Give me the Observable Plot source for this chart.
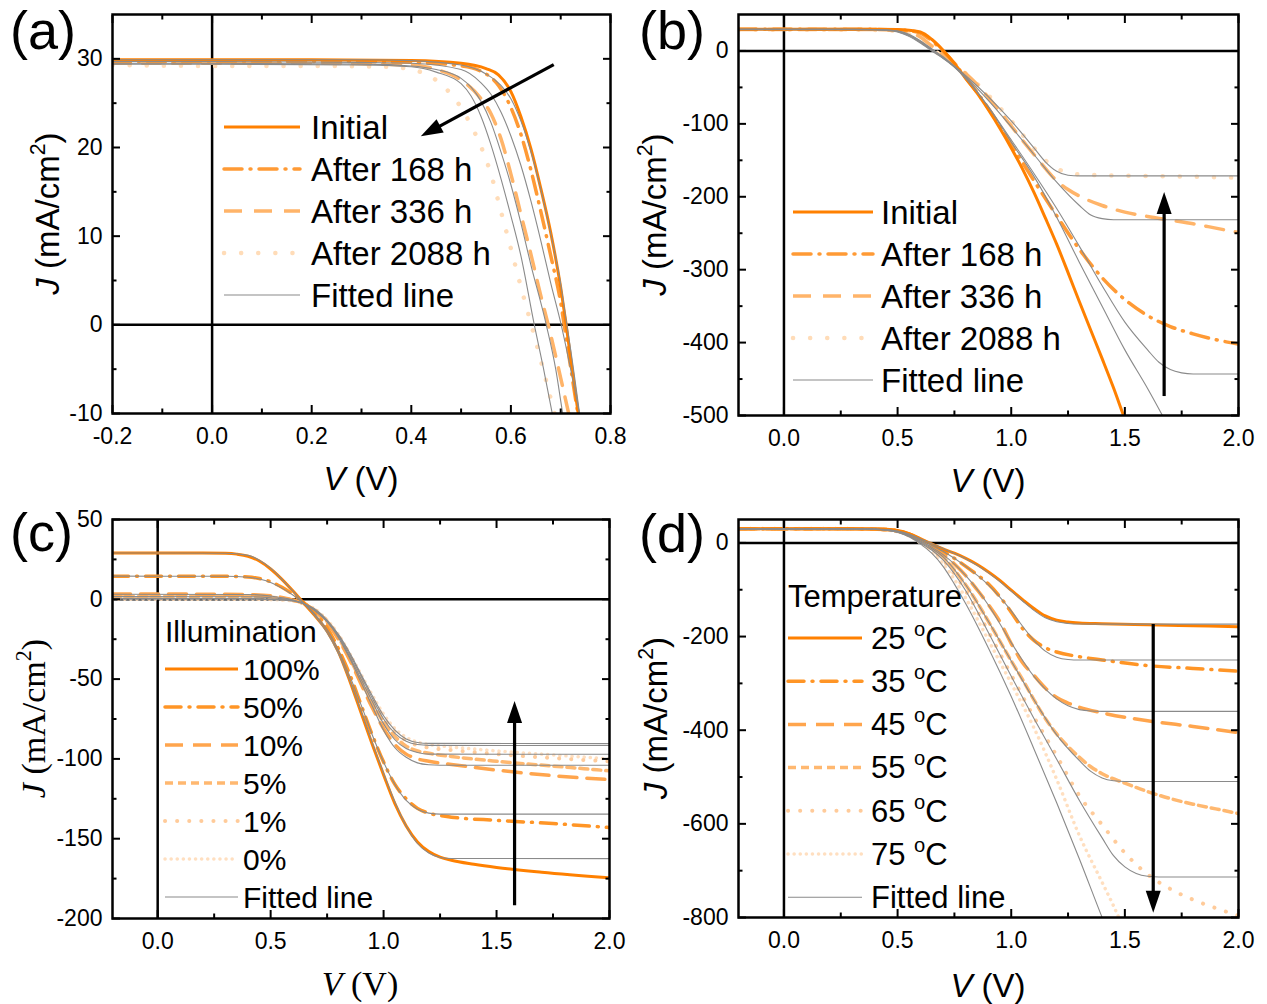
<!DOCTYPE html>
<html><head><meta charset="utf-8">
<script src="https://cdn.jsdelivr.net/npm/d3@7"></script>
<script src="https://cdn.jsdelivr.net/npm/@observablehq/plot@0.6"></script>
<style>
body{margin:0;background:#fff;}
#root{position:relative;width:1267px;height:1004px;background:#fff;overflow:hidden;}
.panel{position:absolute;}
</style></head><body><div id="root"></div>
<script>
// ---------------- DATA ----------------
// Panel (a): J-V near Voc, aging
const a_initial = [[-0.2,29.9],[0,29.9],[0.2,29.9],[0.4,29.8],[0.5,29.5],[0.55,28.9],[0.575,28.2],[0.6,26.3],[0.62,23.5],[0.64,19.9],[0.66,15.4],[0.68,10.4],[0.7,4.2],[0.71,0.4],[0.72,-3.8],[0.74,-12]];
const a_168 = [[-0.2,29.7],[0,29.7],[0.2,29.7],[0.4,29.6],[0.5,29.2],[0.55,28.3],[0.575,27],[0.6,24.5],[0.62,21.5],[0.64,17.5],[0.66,12.8],[0.68,7.8],[0.7,2.5],[0.707,0],[0.72,-4.8],[0.74,-12]];
const a_336 = [[-0.2,29.5],[0,29.5],[0.2,29.5],[0.4,29.3],[0.45,28.8],[0.5,27.6],[0.54,25.5],[0.56,23.8],[0.58,21],[0.6,17],[0.62,12.5],[0.64,8],[0.66,3.3],[0.675,0],[0.7,-6],[0.72,-11]];
const a_2088 = [[-0.2,29.3],[0,29.2],[0.2,29.2],[0.35,29.1],[0.4,28.8],[0.45,27.6],[0.48,26],[0.5,24.5],[0.52,22.5],[0.54,20.1],[0.56,17],[0.58,12.8],[0.6,8.6],[0.62,4.3],[0.641,0],[0.66,-4],[0.69,-10.5]];
const a_fit1 = [[-0.2,29.4],[0,29.4],[0.3,29.3],[0.4,29.1],[0.45,28.5],[0.5,27.2],[0.52,25.8],[0.54,23.5],[0.56,20.3],[0.58,16.5],[0.6,12.3],[0.62,7.8],[0.647,0],[0.665,-4.8],[0.69,-12]];
const a_fit2 = [[-0.2,29.5],[0,29.5],[0.3,29.4],[0.4,29.2],[0.45,28.8],[0.5,27.8],[0.52,26.8],[0.54,25.2],[0.56,22.8],[0.58,19.5],[0.6,15.8],[0.62,11.5],[0.64,6.8],[0.671,0],[0.69,-5],[0.704,-10],[0.71,-12]];
const a_fit3 = [[-0.2,29.7],[0,29.7],[0.3,29.6],[0.4,29.5],[0.5,28.8],[0.54,27.3],[0.56,26],[0.58,24],[0.6,21.3],[0.62,18],[0.64,14],[0.66,9.5],[0.68,4.7],[0.701,0],[0.72,-5],[0.745,-12]];
const a_fit4 = [[-0.2,29.9],[0,29.9],[0.3,29.9],[0.4,29.8],[0.5,29.3],[0.55,28.3],[0.58,27],[0.6,25.5],[0.62,23],[0.64,19.6],[0.66,15.3],[0.68,10.3],[0.7,4.6],[0.711,0.5],[0.72,-2.8],[0.745,-13]];
const a_arrow = [[0.687,29.3],[0.42,21.2]];
const a_labels = ["Initial","After 168 h","After 336 h","After 2088 h","Fitted line"];

// Panel (b): full range, aging
const b_initial = [[-0.2,29.7],[0.2,29.7],[0.4,29.7],[0.5,29.3],[0.55,28.3],[0.6,26],[0.65,16],[0.7,1],[0.75,-17],[0.8,-38],[0.85,-58],[0.9,-81],[0.95,-106],[1.0,-133],[1.05,-162],[1.1,-194],[1.15,-229],[1.2,-265],[1.25,-304],[1.3,-344],[1.35,-383],[1.4,-422],[1.45,-462],[1.5,-505],[1.55,-545]];
const b_168 = [[-0.2,29.7],[0.3,29.7],[0.4,29.6],[0.5,29],[0.55,27.8],[0.6,24.5],[0.65,14],[0.7,0],[0.75,-17],[0.8,-37],[0.85,-57],[0.9,-79],[0.95,-103],[1.0,-128],[1.1,-178],[1.2,-226],[1.3,-272],[1.4,-311],[1.5,-341],[1.6,-363],[1.7,-378],[1.8,-388],[1.9,-396],[2.0,-402]];
const b_336 = [[-0.2,29.5],[0.3,29.5],[0.4,29.3],[0.5,28.3],[0.55,26],[0.6,19],[0.65,7],[0.7,-5],[0.75,-17],[0.8,-31],[0.85,-46],[0.9,-64],[0.95,-83],[1.0,-103],[1.1,-142],[1.15,-161],[1.2,-178],[1.25,-190],[1.3,-199],[1.4,-212],[1.5,-221],[1.6,-227],[1.7,-232],[1.8,-237],[1.9,-243],[2.0,-249]];
const b_2088 = [[-0.2,29.2],[0.3,29.1],[0.4,28.8],[0.5,27],[0.55,23],[0.6,14],[0.65,3],[0.7,-8],[0.75,-19],[0.8,-31],[0.85,-45],[0.9,-61],[0.95,-78],[1.0,-96],[1.05,-115],[1.1,-133],[1.15,-150],[1.2,-161],[1.25,-167],[1.3,-169.5],[1.4,-170.5],[1.6,-171.5],[1.8,-172.5],[2.0,-174]];
const b_fit1 = [[-0.2,29.8],[0.3,29.7],[0.4,29.5],[0.45,29],[0.5,27.5],[0.55,23],[0.6,14],[0.65,3],[0.7,-8],[0.75,-21],[0.8,-37],[0.9,-77],[1.0,-125],[1.1,-172],[1.2,-228],[1.3,-290],[1.4,-350],[1.5,-410],[1.6,-463],[1.7,-520]];
const b_fit2 = [[-0.2,29.8],[0.3,29.7],[0.4,29.4],[0.45,28.8],[0.5,27],[0.55,22],[0.6,13],[0.65,2],[0.7,-9],[0.75,-22],[0.8,-38],[0.9,-77],[1.0,-122],[1.1,-168],[1.2,-216],[1.3,-268],[1.4,-322],[1.5,-372],[1.6,-410],[1.65,-427],[1.7,-437],[1.75,-441.5],[1.8,-443],[2.0,-443]];
const b_fit3 = [[-0.2,29.6],[0.3,29.5],[0.4,29.2],[0.45,28.5],[0.5,26.5],[0.55,21],[0.6,12],[0.65,1],[0.7,-10],[0.75,-22],[0.8,-36],[0.9,-68],[1.0,-104],[1.1,-142],[1.2,-180],[1.3,-212],[1.35,-225],[1.4,-230],[1.45,-231.5],[2.0,-231.5]];
const b_fit4 = [[-0.2,29.3],[0.3,29.2],[0.4,28.9],[0.45,28],[0.5,26],[0.55,20],[0.6,11],[0.65,0],[0.7,-10],[0.75,-21],[0.8,-34],[0.9,-63],[1.0,-96],[1.1,-133],[1.15,-152],[1.2,-165],[1.25,-170.5],[1.3,-171.4],[2.0,-171.4]];
const b_arrow = [[1.675,-474],[1.675,-194]];
const b_labels = ["Initial","After 168 h","After 336 h","After 2088 h","Fitted line"];

// Panel (c): illumination
const c_100 = [[-0.2,29],[0.2,29],[0.3,28.8],[0.35,28.3],[0.4,27],[0.45,24],[0.5,19],[0.55,12.5],[0.6,5],[0.65,-3],[0.7,-11],[0.75,-20],[0.8,-33],[0.85,-51],[0.9,-71],[0.95,-91],[1.0,-110],[1.05,-128],[1.1,-142],[1.15,-152],[1.2,-158],[1.25,-161.5],[1.3,-163.5],[1.4,-166],[1.5,-168],[1.7,-171],[2.0,-174.5]];
const c_50 = [[-0.2,14.5],[0.3,14.4],[0.4,14],[0.45,13],[0.5,11],[0.55,7.5],[0.6,3],[0.65,-2.5],[0.7,-9],[0.75,-18],[0.8,-31],[0.85,-47],[0.9,-66],[0.95,-85],[1.0,-102],[1.05,-116],[1.1,-125],[1.15,-131],[1.2,-134],[1.25,-135.5],[1.3,-136.5],[1.5,-138.5],[1.75,-140.5],[2.0,-143]];
const c_10 = [[-0.2,3.3],[0.3,3.2],[0.4,3],[0.5,2.2],[0.55,1.2],[0.6,-0.5],[0.65,-3],[0.7,-8],[0.75,-15],[0.8,-25],[0.85,-38],[0.9,-53],[0.95,-68],[1.0,-81],[1.05,-91],[1.1,-97],[1.15,-100],[1.2,-101.5],[1.3,-103.5],[1.5,-107],[1.75,-110.5],[2.0,-113]];
const c_5 = [[-0.2,1.8],[0.4,1.7],[0.5,1.2],[0.6,-0.5],[0.65,-3],[0.7,-7.5],[0.75,-14],[0.8,-24],[0.85,-37],[0.9,-51],[0.95,-65],[1.0,-77],[1.05,-86],[1.1,-92],[1.15,-95],[1.2,-96.5],[1.3,-98.5],[1.5,-101.5],[1.75,-104.5],[2.0,-107.5]];
const c_1 = [[-0.2,0.6],[0.4,0.5],[0.5,0.2],[0.6,-0.8],[0.65,-3],[0.7,-7],[0.75,-13.5],[0.8,-23],[0.85,-35],[0.9,-49],[0.95,-62],[1.0,-74],[1.05,-83],[1.1,-88.5],[1.15,-91.5],[1.2,-93],[1.3,-94.5],[1.5,-97],[1.75,-99.5],[2.0,-101.5]];
const c_0 = [[-0.2,0],[0.4,0],[0.5,-0.2],[0.6,-1],[0.65,-3],[0.7,-6.5],[0.75,-13],[0.8,-22],[0.85,-34],[0.9,-47],[0.95,-60],[1.0,-72],[1.05,-81],[1.1,-86.5],[1.15,-89.5],[1.2,-91],[1.3,-92.5],[1.5,-95],[1.75,-97.5],[2.0,-100]];
const c_fit100 = [[-0.2,29],[0.3,28.9],[0.4,27.5],[0.45,24.5],[0.5,19.5],[0.55,12.5],[0.6,5],[0.65,-3],[0.7,-11],[0.75,-21],[0.8,-34],[0.85,-51],[0.9,-70],[0.95,-90],[1.0,-109],[1.05,-127],[1.1,-142],[1.15,-153],[1.2,-159],[1.25,-161.8],[1.3,-162.4],[2.0,-162.5]];
const c_fit50 = [[-0.2,14.5],[0.3,14.4],[0.4,13.8],[0.45,12.7],[0.5,10.5],[0.55,7],[0.6,2.5],[0.65,-3],[0.7,-10],[0.75,-19],[0.8,-32],[0.85,-48],[0.9,-66],[0.95,-85],[1.0,-102],[1.05,-116],[1.1,-126],[1.15,-131.5],[1.2,-134],[1.25,-134.6],[2.0,-134.6]];
const c_fit10 = [[-0.2,3.2],[0.4,3],[0.5,2],[0.6,-0.5],[0.65,-3],[0.7,-7.5],[0.75,-14],[0.8,-24],[0.85,-37],[0.9,-52],[0.95,-67],[1.0,-82],[1.05,-93],[1.1,-99],[1.15,-102.5],[1.2,-103.7],[1.25,-104],[2.0,-104]];
const c_fit5 = [[-0.2,1.8],[0.4,1.6],[0.5,1],[0.6,-0.6],[0.65,-3],[0.7,-7.5],[0.75,-14],[0.8,-23],[0.85,-36],[0.9,-50],[0.95,-64],[1.0,-78],[1.05,-88],[1.1,-93.5],[1.15,-96],[1.2,-97],[2.0,-97.1]];
const c_fit1 = [[-0.2,0.6],[0.4,0.5],[0.5,0.1],[0.6,-0.9],[0.65,-3],[0.7,-7],[0.75,-13.5],[0.8,-22.5],[0.85,-34.5],[0.9,-48],[0.95,-62],[1.0,-75],[1.05,-84],[1.1,-89],[1.15,-91],[1.2,-91.5],[2.0,-91.6]];
const c_fit0 = [[-0.2,0],[0.4,0],[0.5,-0.2],[0.6,-1],[0.65,-3],[0.7,-6.5],[0.75,-13],[0.8,-22],[0.85,-33.5],[0.9,-47],[0.95,-60.5],[1.0,-73],[1.05,-82],[1.1,-87.5],[1.15,-89.7],[1.2,-90.3],[2.0,-90.4]];
const c_arrow = [[1.582,-192],[1.582,-64]];
const c_labels = ["100%","50%","10%","5%","1%","0%","Fitted line"];

// Panel (d): temperature
const d_25 = [[-0.2,30],[0.3,30],[0.4,29.7],[0.45,29],[0.5,26.5],[0.55,20],[0.6,9],[0.65,-2],[0.7,-13],[0.75,-22],[0.8,-33],[0.85,-46],[0.9,-62],[0.95,-80],[1.0,-101],[1.05,-121],[1.1,-140],[1.15,-156],[1.2,-165],[1.25,-169],[1.3,-171],[1.4,-172.5],[1.6,-174.8],[1.8,-176.8],[2.0,-179]];
const d_35 = [[-0.2,30],[0.3,30],[0.4,29.6],[0.45,28.7],[0.5,26],[0.55,19],[0.6,8],[0.65,-4],[0.7,-17],[0.75,-33],[0.8,-50],[0.85,-68],[0.9,-88],[0.95,-115],[1.0,-148],[1.05,-183],[1.1,-208],[1.15,-224],[1.2,-233],[1.3,-243],[1.4,-250],[1.6,-262],[1.8,-268],[2.0,-274]];
const d_45 = [[-0.2,30],[0.3,30],[0.4,29.5],[0.45,28.5],[0.5,25.5],[0.55,18],[0.6,6],[0.65,-7],[0.7,-24],[0.75,-45],[0.8,-70],[0.85,-100],[0.9,-132],[0.95,-168],[1.0,-215],[1.05,-256],[1.1,-283],[1.15,-310],[1.2,-330],[1.25,-342],[1.3,-351],[1.4,-363],[1.6,-380],[1.8,-392],[2.0,-405]];
const d_55 = [[-0.2,30],[0.3,30],[0.4,29.4],[0.45,28.2],[0.5,25],[0.55,17],[0.6,4],[0.65,-10],[0.7,-30],[0.75,-58],[0.8,-90],[0.85,-127],[0.9,-168],[0.95,-210],[1.0,-252],[1.05,-292],[1.1,-335],[1.15,-375],[1.2,-408],[1.25,-435],[1.3,-458],[1.35,-478],[1.4,-493],[1.5,-513],[1.6,-531],[1.7,-546],[1.8,-558],[1.9,-568],[2.0,-578]];
const d_65 = [[-0.2,30],[0.3,30],[0.4,29.3],[0.45,28],[0.5,24.5],[0.55,16],[0.6,2],[0.65,-14],[0.7,-36],[0.75,-66],[0.8,-102],[0.85,-145],[0.9,-190],[0.95,-236],[1.0,-282],[1.05,-328],[1.1,-372],[1.2,-455],[1.3,-540],[1.4,-602],[1.5,-662],[1.6,-708],[1.7,-739],[1.8,-762],[1.9,-780],[2.0,-796]];
const d_75 = [[-0.2,30],[0.3,30],[0.4,29.2],[0.45,27.8],[0.5,24],[0.55,15],[0.6,0],[0.65,-18],[0.7,-44],[0.75,-78],[0.8,-118],[0.85,-162],[0.9,-208],[0.95,-254],[1.0,-300],[1.1,-395],[1.2,-505],[1.3,-625],[1.4,-725],[1.45,-775],[1.5,-830]];
const d_fit25 = [[-0.2,30],[0.3,29.9],[0.4,29.5],[0.45,28.5],[0.5,25.5],[0.55,19],[0.6,9],[0.65,-1],[0.7,-12],[0.8,-34],[0.9,-64],[1.0,-103],[1.05,-124],[1.1,-144],[1.15,-160],[1.2,-168.5],[1.25,-172],[1.3,-173.2],[1.4,-173.4],[2.0,-173.4]];
const d_fit35 = [[-0.2,29.9],[0.3,29.8],[0.4,29.3],[0.45,28],[0.5,25],[0.55,18],[0.6,7],[0.65,-5],[0.7,-18],[0.8,-50],[0.9,-90],[1.0,-145],[1.05,-178],[1.1,-208],[1.15,-231],[1.2,-244],[1.25,-249],[1.3,-250.2],[2.0,-250.2]];
const d_fit45 = [[-0.2,29.9],[0.3,29.8],[0.4,29.2],[0.45,27.8],[0.5,24],[0.55,16],[0.6,4],[0.65,-9],[0.7,-25],[0.8,-70],[0.9,-133],[1.0,-213],[1.1,-285],[1.2,-333],[1.25,-348],[1.3,-356],[1.35,-359],[1.4,-359.7],[2.0,-359.7]];
const d_fit55 = [[-0.2,29.9],[0.3,29.8],[0.4,29.1],[0.45,27.5],[0.5,23.5],[0.55,15],[0.6,2],[0.65,-12],[0.7,-30],[0.8,-90],[0.9,-168],[1.0,-252],[1.1,-335],[1.2,-410],[1.3,-465],[1.35,-488],[1.4,-502],[1.45,-508],[1.5,-509.6],[2.0,-509.6]];
const d_fit65 = [[-0.2,29.9],[0.3,29.8],[0.4,29],[0.45,27.3],[0.5,23],[0.55,14],[0.6,0],[0.65,-15],[0.7,-36],[0.8,-102],[0.9,-192],[1.0,-285],[1.1,-375],[1.2,-462],[1.3,-550],[1.4,-630],[1.45,-668],[1.5,-692],[1.55,-706],[1.6,-712],[1.65,-713.6],[2.0,-713.6]];
const d_fit75 = [[-0.2,29.9],[0.3,29.8],[0.4,29],[0.45,27.3],[0.5,23],[0.55,13],[0.6,-2],[0.65,-22],[0.7,-50],[0.75,-88],[0.8,-130],[0.9,-225],[1.0,-328],[1.1,-440],[1.2,-555],[1.3,-675],[1.4,-800],[1.45,-860]];
const d_arrow = [[1.627,-174],[1.627,-791]];
const d_labels = ["25 ^oC","35 ^oC","45 ^oC","55 ^oC","65 ^oC","75 ^oC","Fitted line"];

// tick values
const a_xMajor = [-0.2,0,0.2,0.4,0.6,0.8], a_xMinor = [-0.1,0.1,0.3,0.5,0.7];
const a_yMajor = [-10,0,10,20,30], a_yMinor = [-5,5,15,25];
const bcd_xMajor = [0,0.5,1,1.5,2], bcd_xMinor = [0.25,0.75,1.25,1.75];
const b_yMajor = [-500,-400,-300,-200,-100,0], b_yMinor = [-450,-350,-250,-150,-50];
const c_yMajor = [-200,-150,-100,-50,0,50], c_yMinor = [-175,-125,-75,-25,25];
const d_yMajor = [-800,-600,-400,-200,0], d_yMinor = [-700,-500,-300,-100];

// ---------------- STYLES ----------------
const SANS = "'Liberation Sans', Arial, Helvetica, sans-serif";
const SERIF = "'Liberation Serif', 'Times New Roman', serif";
const styleAB = [
  {stroke:"#FF8000", strokeWidth:3},
  {stroke:"#FF9A35", strokeWidth:3.5, strokeDasharray:"18,8,1,8", strokeLinecap:"round"},
  {stroke:"#FFB469", strokeWidth:3.5, strokeDasharray:"18,12"},
  {stroke:"#FFDCB8", strokeWidth:4.5, strokeDasharray:"0.1,17", strokeLinecap:"round"}
];
const styleCD = [
  {stroke:"#FF8000", strokeWidth:3},
  {stroke:"#FF9526", strokeWidth:3.5, strokeDasharray:"16,8,1,8", strokeLinecap:"round"},
  {stroke:"#FFA54D", strokeWidth:3.5, strokeDasharray:"18,10"},
  {stroke:"#FFB870", strokeWidth:3.5, strokeDasharray:"8,5"},
  {stroke:"#FFCB9A", strokeWidth:4, strokeDasharray:"0.1,12", strokeLinecap:"round"},
  {stroke:"#FFDFC0", strokeWidth:3.5, strokeDasharray:"0.1,6", strokeLinecap:"round"}
];
const fitStyle = {stroke:"#8a8a8a", strokeWidth:1.1};

const fmt1 = d => d.toFixed(1);
const fmt0 = d => String(d);

const panels = [
  {left:0, top:0, width:633, height:500, mt:14, mr:23, mb:87, ml:112,
   xDomain:[-0.2,0.8], yDomain:[-10,35], xMajor:a_xMajor, xMinor:a_xMinor, yMajor:a_yMajor, yMinor:a_yMinor,
   series:[a_initial,a_168,a_336,a_2088], styles:styleAB, fits:[a_fit1,a_fit2,a_fit3,a_fit4], arrow:a_arrow,
   letter:"(a)", letterPos:[10,49], font:SANS, ylab:[47,213.5], xlab:[361,490],
   legend:{labels:a_labels, x1:224, x2:300, tx:311, y0:127, dy:42, fs:33}},
  {left:633, top:0, width:634, height:500, mt:14, mr:29, mb:85, ml:105,
   xDomain:[-0.2,2.0], yDomain:[-500,50], xMajor:bcd_xMajor, xMinor:bcd_xMinor, yMajor:b_yMajor, yMinor:b_yMinor,
   series:[b_initial,b_168,b_336,b_2088], styles:styleAB, fits:[b_fit1,b_fit2,b_fit3,b_fit4], arrow:b_arrow,
   letter:"(b)", letterPos:[6,49], font:SANS, ylab:[21,214.5], xlab:[355,492],
   legend:{labels:b_labels, x1:160, x2:240, tx:248, y0:212, dy:42, fs:33}},
  {left:0, top:500, width:633, height:504, mt:19, mr:24, mb:86, ml:112,
   xDomain:[-0.2,2.0], yDomain:[-200,50], xMajor:bcd_xMajor, xMinor:bcd_xMinor, yMajor:c_yMajor, yMinor:c_yMinor,
   series:[c_100,c_50,c_10,c_5,c_1,c_0], styles:styleCD, fits:[c_fit100,c_fit50,c_fit10,c_fit5,c_fit1,c_fit0], arrow:c_arrow,
   letter:"(c)", letterPos:[10,51], font:SERIF, ylab:[33,218.5], xlab:[360,495],
   legend:{title:"Illumination", labels:c_labels, x1:165, x2:238, tx:243, ty:131, y0:169, dy:38, fs:30}},
  {left:633, top:500, width:634, height:504, mt:19, mr:29, mb:87, ml:105,
   xDomain:[-0.2,2.0], yDomain:[-800,50], xMajor:bcd_xMajor, xMinor:bcd_xMinor, yMajor:d_yMajor, yMinor:d_yMinor,
   series:[d_25,d_35,d_45,d_55,d_65,d_75], styles:styleCD, fits:[d_fit25,d_fit35,d_fit45,d_fit55,d_fit65,d_fit75], arrow:d_arrow,
   letter:"(d)", letterPos:[6,52], font:SANS, ylab:[22,218], xlab:[355,497],
   legend:{title:"Temperature", labels:d_labels, x1:155, x2:229, tx:238, ty:96, y0:138, dy:43.2, fs:31}}
];

// rich text: "^" marks next char as superscript
function richText(sel, str, fs, italicFirst) {
  let i = 0, shifted = false;
  if (italicFirst) { sel.append("tspan").attr("font-style","italic").text(str[0]); i = 1; }
  let buf = "";
  const flush = () => { if (buf) { const t = sel.append("tspan").text(buf); if (shifted) { t.attr("dy", 0.42*fs); shifted = false; } buf = ""; } };
  for (; i < str.length; i++) {
    if (str[i] === "^") {
      flush();
      sel.append("tspan").attr("font-size", fs*0.65).attr("dy", -0.42*fs).text(str[i+1]);
      shifted = true; i++;
    } else buf += str[i];
  }
  flush();
}

function drawArrow(g, x1, y1, x2, y2) {
  const dx = x2-x1, dy = y2-y1, L = Math.hypot(dx,dy), ux = dx/L, uy = dy/L;
  const hl = 22, hw = 7.5;
  const bx = x2 - ux*hl, by = y2 - uy*hl;
  g.append("line").attr("x1",x1).attr("y1",y1).attr("x2",bx+ux*3).attr("y2",by+uy*3)
    .attr("stroke","black").attr("stroke-width",3.2);
  g.append("path").attr("d",`M${x2},${y2}L${bx-uy*hw},${by+ux*hw}L${bx+uy*hw},${by-ux*hw}Z`).attr("fill","black");
}

const root = document.getElementById("root");
const X = d => d[0], Y = d => d[1];

panels.forEach(P => {
  const marks = [
    Plot.ruleY([0], {stroke:"black", strokeWidth:2.5}),
    Plot.ruleX([0], {stroke:"black", strokeWidth:2.5})
  ];
  P.series.map((s,i)=>[s,i]).reverse().forEach(([s,i]) => {
    marks.push(Plot.line(s, {x:X, y:Y, curve:"monotone-x", clip:true, ...P.styles[i]}));
  });
  P.fits.forEach(f => marks.push(Plot.line(f, {x:X, y:Y, curve:"monotone-x", clip:true, ...fitStyle})));
  marks.push(Plot.axisX({ticks:P.xMajor, anchor:"bottom", tickSize:0, tickPadding:14, tickFormat:fmt1, fontSize:23, fill:"black", label:null}));
  marks.push(Plot.axisY({ticks:P.yMajor, anchor:"left", tickSize:0, tickPadding:10, tickFormat:fmt0, fontSize:23, fill:"black", label:null}));
  ["bottom","top"].forEach(anchor => {
    marks.push(Plot.axisX({ticks:P.xMajor, anchor, tickSize:-8, fill:"none", stroke:"black", strokeWidth:2, label:null}));
    marks.push(Plot.axisX({ticks:P.xMinor, anchor, tickSize:-4.5, fill:"none", stroke:"black", strokeWidth:2, label:null}));
  });
  ["left","right"].forEach(anchor => {
    marks.push(Plot.axisY({ticks:P.yMajor, anchor, tickSize:-8, fill:"none", stroke:"black", strokeWidth:2, label:null}));
    marks.push(Plot.axisY({ticks:P.yMinor, anchor, tickSize:-4.5, fill:"none", stroke:"black", strokeWidth:2, label:null}));
  });
  marks.push(Plot.frame({stroke:"black", strokeWidth:2.5}));

  const svgEl = Plot.plot({
    width:P.width, height:P.height,
    marginTop:P.mt, marginRight:P.mr, marginBottom:P.mb, marginLeft:P.ml,
    x:{domain:P.xDomain, label:null}, y:{domain:P.yDomain, label:null},
    style:{fontFamily:SANS, fontSize:"23px", color:"black", background:"white", overflow:"visible"},
    marks
  });
  const div = document.createElement("div");
  div.className = "panel";
  div.style.left = P.left+"px"; div.style.top = P.top+"px";
  div.style.width = P.width+"px"; div.style.height = P.height+"px";
  div.appendChild(svgEl);
  root.appendChild(div);

  const svg = d3.select(svgEl.tagName.toLowerCase()==="svg" ? svgEl : svgEl.querySelector("svg"));
  const sxs = svgEl.scale("x"), sys = svgEl.scale("y");
  const sx = d3.scaleLinear(sxs.domain, sxs.range), sy = d3.scaleLinear(sys.domain, sys.range);
  const g = svg.append("g").attr("text-anchor","start");

  drawArrow(g, sx(P.arrow[0][0]), sy(P.arrow[0][1]), sx(P.arrow[1][0]), sy(P.arrow[1][1]));

  g.append("text").attr("x",P.letterPos[0]).attr("y",P.letterPos[1]).attr("text-anchor","start")
    .attr("font-family",SANS).attr("font-size",54).attr("fill","black").text(P.letter);

  const lf = P.font === SERIF ? 34 : 33;
  const yl = g.append("text").attr("transform",`translate(${P.ylab[0]},${P.ylab[1]}) rotate(-90)`)
    .attr("text-anchor","middle").attr("dy","0.35em").attr("font-family",P.font).attr("font-size",lf).attr("fill","black");
  richText(yl, "J (mA/cm^2)", lf, true);
  const xl = g.append("text").attr("x",P.xlab[0]).attr("y",P.xlab[1])
    .attr("text-anchor","middle").attr("font-family",P.font).attr("font-size",lf).attr("fill","black");
  richText(xl, "V (V)", lf, true);

  const L = P.legend;
  if (L.title) {
    g.append("text").attr("x",L.x1).attr("y",L.ty).attr("dy","0.35em").attr("text-anchor","start").attr("font-family",SANS)
      .attr("font-size",L.fs).attr("fill","black").text(L.title);
  }
  L.labels.forEach((lab,i) => {
    const y = L.y0 + i*L.dy;
    const st = i < P.series.length ? P.styles[i] : fitStyle;
    const ln = g.append("line").attr("x1",L.x1).attr("x2",L.x2).attr("y1",y).attr("y2",y)
      .attr("stroke",st.stroke).attr("stroke-width",st.strokeWidth);
    if (st.strokeDasharray) ln.attr("stroke-dasharray",st.strokeDasharray);
    if (st.strokeLinecap) ln.attr("stroke-linecap",st.strokeLinecap);
    const t = g.append("text").attr("x",L.tx).attr("y",y).attr("dy","0.35em").attr("text-anchor","start").attr("font-family",SANS)
      .attr("font-size",L.fs).attr("fill","black");
    richText(t, lab, L.fs, false);
  });
});
</script></body></html>
